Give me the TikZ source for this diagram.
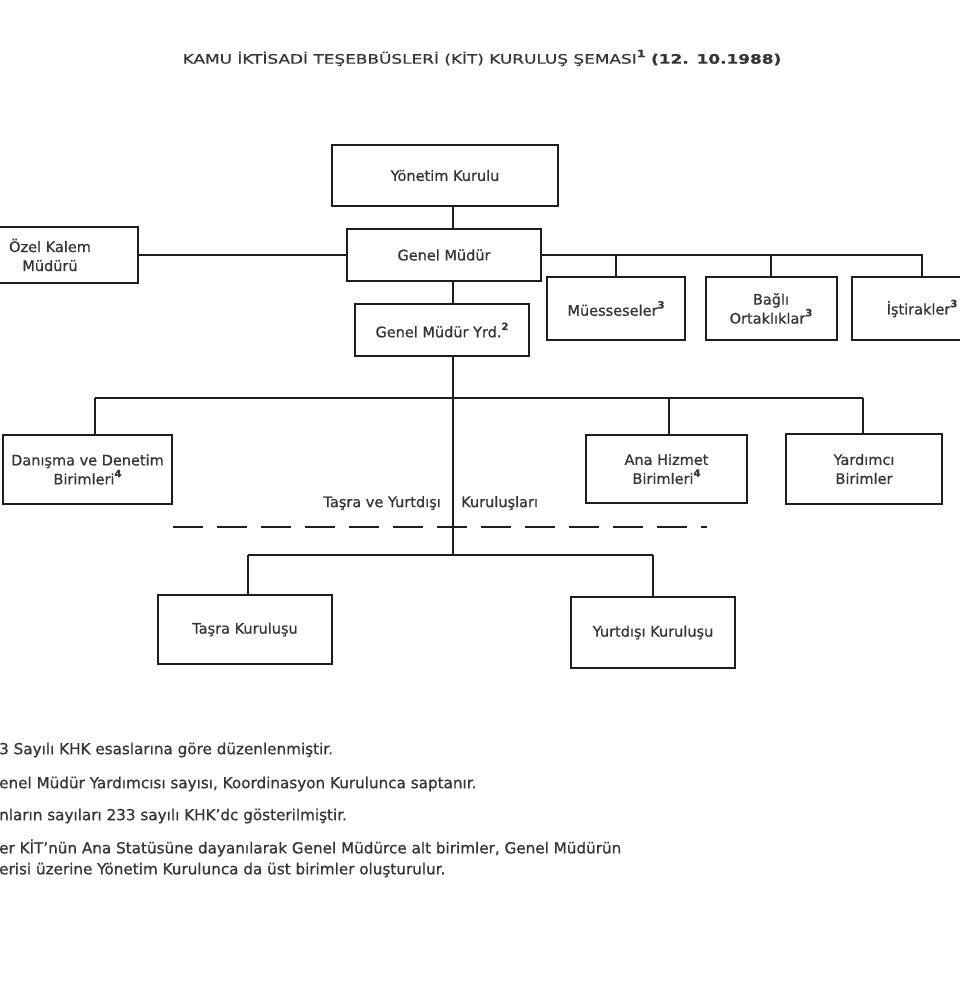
\documentclass[tikz,border=0pt]{standalone}
\usepackage{fontspec}
\setmainfont{DejaVu Sans}[FakeBold=0.8]
\newfontfamily\titlefont[FakeStretch=1.3,FakeBold=0.8]{DejaVu Sans}
\definecolor{ink}{HTML}{363636}
\definecolor{lineink}{HTML}{1E1E1E}
\newcommand{\supn}[1]{\raisebox{0.5em}{\fontsize{10}{10}\selectfont\bfseries #1}}
\begin{document}
\begin{tikzpicture}[x=1pt,y=-1pt,
  box/.style={draw=lineink, line width=2pt, rectangle, inner sep=0pt, align=center,
    text=ink, font=\fontsize{14.5}{19}\selectfont},
  ln/.style={draw=lineink, line width=1.8pt},
  dashln/.style={draw=lineink, line width=2.6pt, dash pattern=on 30pt off 14pt},
  lbl/.style={inner sep=0pt, text=ink, font=\fontsize{14.5}{19}\selectfont},
  foot/.style={inner sep=0pt, anchor=west, text=ink, font=\fontsize{15.2}{18}\selectfont},
  ttl/.style={inner sep=0pt, text=ink, font=\titlefont\fontsize{13}{16}\selectfont}]
\useasboundingbox[fill=white] (0,0) rectangle (960,983);

% title
\node[ttl] (title) at (482,58) {KAMU İKTİSADİ TEŞEBBÜSLERİ (KİT) KURULUŞ ŞEMASI\supn{1} {\bfseries (12. 10.1988)}};

% boxes
\node[box, minimum width=226pt, minimum height=61pt] (yk) at (445,175.5) {Yönetim Kurulu};
\node[box, minimum width=194pt, minimum height=52pt] (gm) at (444,255) {Genel Müdür};
\node[box, minimum width=176pt, minimum height=56pt] (ozk) at (50,255) {Özel Kalem\\Müdürü};
\node[box, minimum width=174pt, minimum height=52pt] (yrd) at (442,330) {Genel Müdür Yrd.\supn{2}};
\node[box, minimum width=138pt, minimum height=63pt] (mue) at (616,308.5) {Müesseseler\supn{3}};
\node[box, minimum width=131pt, minimum height=63pt] (bag) at (771,308.5) {Bağlı\\Ortaklıklar\supn{3}};
\node[box, minimum width=140pt, minimum height=63pt] (ist) at (922,308.5) {İştirakler\supn{3}};
\node[box, minimum width=169pt, minimum height=69pt] (dan) at (87.5,469.5) {Danışma ve Denetim\\Birimleri\supn{4}};
\node[box, minimum width=161pt, minimum height=68pt] (ana) at (666.5,469) {Ana Hizmet\\Birimleri\supn{4}};
\node[box, minimum width=156pt, minimum height=70pt] (yar) at (864,469) {Yardımcı\\Birimler};
\node[box, minimum width=174pt, minimum height=69pt] (tas) at (245,629.5) {Taşra Kuruluşu};
\node[box, minimum width=164pt, minimum height=71pt] (yur) at (653,632.5) {Yurtdışı Kuruluşu};

% junction coordinates
\coordinate (trunk) at (453,0);
\coordinate (hl) at (95,398);
\coordinate (hr) at (863,398);
\coordinate (av) at (669,398);
\coordinate (bl) at (248,555);
\coordinate (br) at (653,555);
\coordinate (d1) at (173,527);
\coordinate (d2) at (707,527);

% connectors
\draw[ln] (yk.south -| trunk) -- (gm.north -| trunk);
\draw[ln] (gm.south -| trunk) -- (yrd.north -| trunk);
\draw[ln] (ozk.east) -- (gm.west);
\draw[ln] (gm.east) -- (gm.east -| ist.north) -- (ist.north);
\draw[ln] (mue.north) -- (mue.north |- gm.east);
\draw[ln] (bag.north) -- (bag.north |- gm.east);
\draw[ln] (yrd.south -| trunk) -- (trunk |- bl);
\draw[ln] (hl) -- (hr);
\draw[ln] (hl) -- (hl |- dan.north);
\draw[ln] (av) -- (av |- ana.north);
\draw[ln] (hr) -- (hr |- yar.north);
\draw[ln] (bl) -- (br);
\draw[ln] (bl) -- (bl |- tas.north);
\draw[ln] (br) -- (yur.north);
\draw[dashln] (d1) -- (d2);

% label on the trunk
\node[lbl, anchor=east] (lblL) at (441,503) {Taşra ve Yurtdışı};
\node[lbl, anchor=west] (lblR) at (461,503) {Kuruluşları};

% footnotes
\node[foot] (f1) at (-1,750) {3 Sayılı KHK esaslarına göre düzenlenmiştir.};
\node[foot] (f2) at (-1,784) {enel Müdür Yardımcısı sayısı, Koordinasyon Kurulunca saptanır.};
\node[foot] (f3) at (-1,816) {nların sayıları 233 sayılı KHK'dc gösterilmiştir.};
\node[foot] (f4) at (-1,848) {er KİT'nün Ana Statüsüne dayanılarak Genel Müdürce alt birimler, Genel Müdürün};
\node[foot] (f5) at (-1,870) {erisi üzerine Yönetim Kurulunca da üst birimler oluşturulur.};
\end{tikzpicture}
\end{document}
